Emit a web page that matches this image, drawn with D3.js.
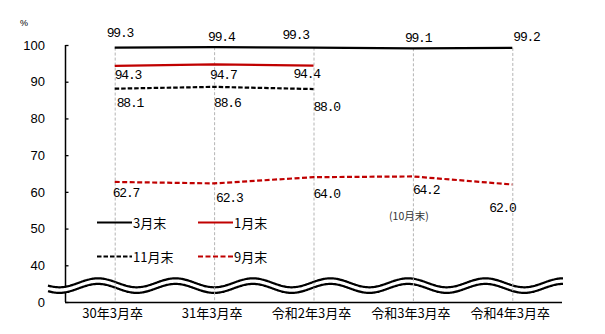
<!DOCTYPE html>
<html>
<head>
<meta charset="utf-8">
<script src="https://cdn.jsdelivr.net/npm/d3@7"></script>
<style>
  html, body { margin: 0; padding: 0; background: #fff; }
  svg { display: block; }
</style>
</head>
<body>
<svg id="chart" width="605" height="334"></svg>
<script>
// Graduates by graduation year
const categories = ["30年3月卒", "31年3月卒", "令和2年3月卒", "令和3年3月卒", "令和4年3月卒"];

// Rates (%) at each survey point
const marchEnd = [99.3, 99.4, 99.3, 99.1, 99.2];
const januaryEnd = [94.3, 94.7, 94.4];
const novemberEnd = [88.1, 88.6, 88.0];
const septemberEnd = [62.7, 62.3, 64.0, 64.2, 62.0];

// Series names for the legend
const seriesNames = ["3月末", "1月末", "11月末", "9月末"];

// Y axis: the bottom of the broken axis is labelled 0
const yTickValues = [30, 40, 50, 60, 70, 80, 90, 100];
const yTickLabels = ["0", "40", "50", "60", "70", "80", "90", "100"];

const note = "(10月末)";

// ---- layout ----
const svg = d3.select("#chart");
const plot = { left: 65, right: 562, top: 45, bottom: 302 };

const x = d3.scaleBand().domain(categories).range([plot.left, plot.right]);
const cx = c => x(c) + x.bandwidth() / 2;
const y = d3.scaleLinear().domain([30, 100]).range([plot.bottom, plot.top]);

const RED = "#c00000";
const numFont = "'Liberation Mono', 'DejaVu Sans Mono', monospace";
const jpFont = "'Noto Sans CJK JP', 'Noto Sans', sans-serif";

// series styles and label placement (dx from category centre, dy from point)
const series = [
  { name: seriesNames[0], values: marchEnd, color: "#000", dash: null,
    dx: [-8, -6, -31, -8, 1], dy: [-14.5, -9.5, -12.5, -10, -10] },
  { name: seriesNames[1], values: januaryEnd, color: RED, dash: null,
    dx: [0, -4, -20], dy: [10, 11.5, 8.5] },
  { name: seriesNames[2], values: novemberEnd, color: "#000", dash: "4.5,2",
    dx: [2, 0, 0], dy: [15, 16.5, 18.5] },
  { name: seriesNames[3], values: septemberEnd, color: RED, dash: "5,2.5",
    dx: [-2, 2, 0, 0, -23], dy: [12, 15.5, 17, 14.5, 23.5] }
];

// ---- axes ----
const yAxis = d3.axisLeft(y)
  .tickValues(yTickValues)
  .tickSize(-3)
  .tickPadding(20)
  .tickFormat((d, i) => yTickLabels[i]);

const gy = svg.append("g")
  .attr("transform", `translate(${plot.left},0)`)
  .call(yAxis);
gy.select(".domain").attr("stroke", "#000").attr("stroke-width", 1.5)
  .attr("d", `M0.5,${plot.top}V${plot.bottom}`);
gy.selectAll(".tick line").attr("stroke", "#000").attr("stroke-width", 1.3)
  .attr("transform", "translate(0.5,0)");
gy.selectAll(".tick text")
  .attr("font-family", "'Liberation Sans Narrow', 'Liberation Sans', Arial, sans-serif")
  .attr("font-size", 13)
  .attr("fill", "#000");

svg.append("text")
  .attr("x", 24).attr("y", 23)
  .attr("text-anchor", "middle").attr("dominant-baseline", "central")
  .attr("font-family", "'Liberation Sans', Arial, sans-serif")
  .attr("font-size", 9)
  .text("%");

const xAxis = d3.axisBottom(x).tickSize(0).tickPadding(7);
const gx = svg.append("g")
  .attr("transform", `translate(0,${plot.bottom})`)
  .call(xAxis);
gx.select(".domain").attr("stroke", "#000").attr("stroke-width", 1.5)
  .attr("d", `M${plot.left},0.5H${plot.right}`);
gx.selectAll(".tick text")
  .attr("font-family", jpFont)
  .attr("font-size", 13)
  .attr("fill", "#000")
  .attr("dx", -2);

// ---- axis break: white band bounded by two wavy strokes ----
const waveX = d3.range(48, 564, 1);
const period = 77.5, phase = 98, amp = 4.5;
const upper = xx => 282.8 - amp * Math.cos(2 * Math.PI * (xx - phase) / period);
const lower = xx => 288.4 - amp * Math.cos(2 * Math.PI * (xx - phase) / period);

svg.append("path")
  .datum(waveX)
  .attr("fill", "#fff")
  .attr("d", d3.area().x(d => d).y0(upper).y1(lower).curve(d3.curveBasis));
[upper, lower].forEach(f => {
  svg.append("path")
    .datum(waveX)
    .attr("fill", "none")
    .attr("stroke", "#000")
    .attr("stroke-width", 2.2)
    .attr("d", d3.line().x(d => d).y(f).curve(d3.curveBasis));
});

// ---- vertical drop lines ----
svg.append("g").selectAll("line")
  .data(categories)
  .join("line")
  .attr("x1", d => cx(d) + 0.5).attr("x2", d => cx(d) + 0.5)
  .attr("y1", (d, i) => y(marchEnd[i]))
  .attr("y2", plot.bottom)
  .attr("stroke", "#b4b4b4")
  .attr("stroke-width", 1)
  .attr("stroke-dasharray", "3,2");

// ---- series lines ----
const line = d3.line()
  .x((d, i) => cx(categories[i]))
  .y(d => y(d));

series.forEach(s => {
  svg.append("path")
    .datum(s.values)
    .attr("fill", "none")
    .attr("stroke", s.color)
    .attr("stroke-width", 2.2)
    .attr("stroke-dasharray", s.dash)
    .attr("d", line);
});

// ---- value labels ----
series.forEach(s => {
  svg.append("g").selectAll("text")
    .data(s.values)
    .join("text")
    .attr("x", (d, i) => cx(categories[i]) + s.dx[i])
    .attr("y", (d, i) => y(d) + s.dy[i])
    .attr("dominant-baseline", "central")
    .attr("font-family", numFont)
    .attr("font-size", 13)
    .attr("letter-spacing", -1.2)
    .attr("fill", "#000")
    .text(d => d.toFixed(1));
});

// note under the September series
svg.append("text")
  .attr("x", cx(categories[3]) - 4)
  .attr("y", 215)
  .attr("text-anchor", "middle")
  .attr("dominant-baseline", "central")
  .attr("font-family", jpFont)
  .attr("font-size", 10.5)
  .attr("fill", "#333")
  .text(note);

// ---- legend ----
const legendPos = [
  { x: 97, y: 222.5 }, { x: 198, y: 222.5 },
  { x: 97, y: 256.5 }, { x: 198, y: 256.5 }
];
const lg = svg.append("g").selectAll("g")
  .data(series)
  .join("g")
  .attr("transform", (d, i) => `translate(${legendPos[i].x},${legendPos[i].y})`);
lg.append("line")
  .attr("x1", 0).attr("x2", 35)
  .attr("stroke", d => d.color)
  .attr("stroke-width", 2.2)
  .attr("stroke-dasharray", d => d.dash);
lg.append("text")
  .attr("x", 36)
  .attr("dominant-baseline", "central")
  .attr("font-family", jpFont)
  .attr("font-size", 13)
  .attr("fill", "#000")
  .text(d => d.name);
</script>
</body>
</html>
